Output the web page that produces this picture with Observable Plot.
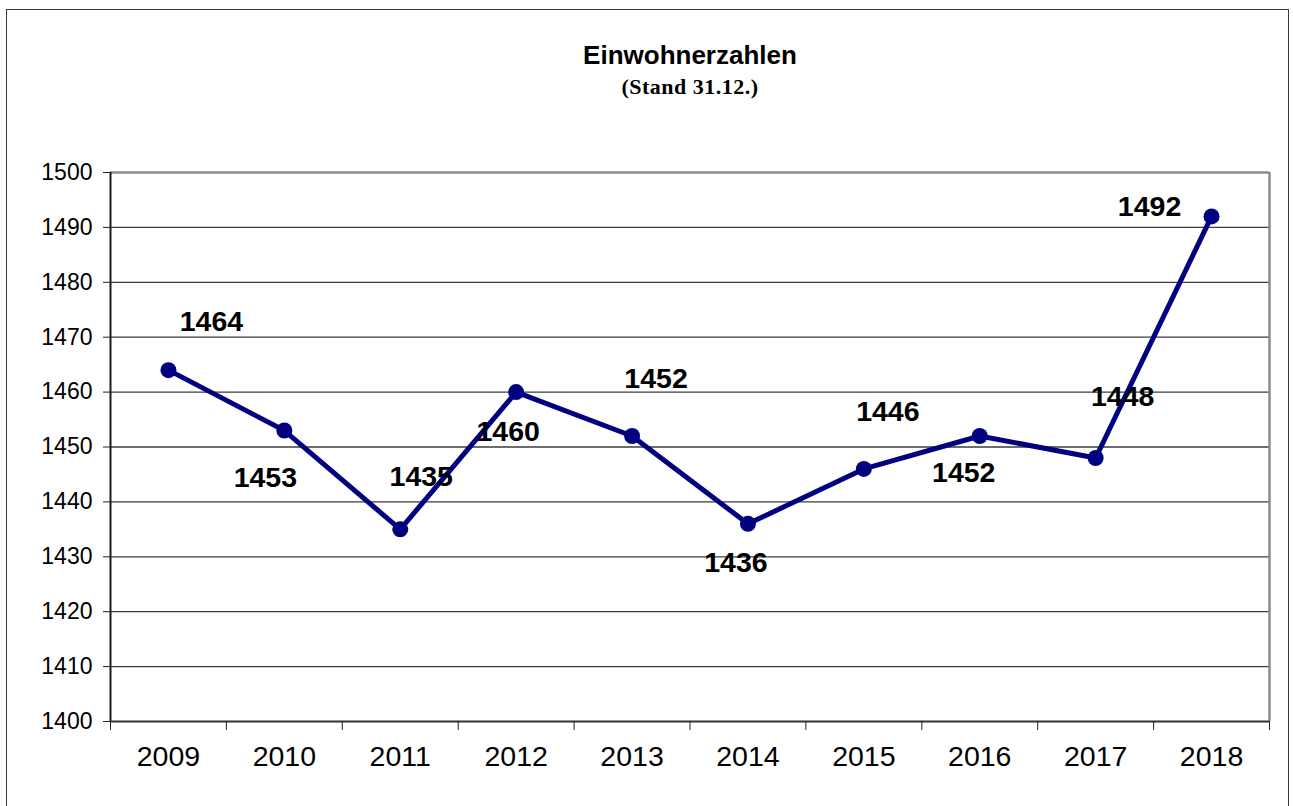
<!DOCTYPE html>
<html>
<head>
<meta charset="utf-8">
<script src="https://cdn.jsdelivr.net/npm/d3@7"></script>
<script src="https://cdn.jsdelivr.net/npm/@observablehq/plot@0.6"></script>
<style>
  html, body { margin: 0; padding: 0; background: #fff; }
  body { width: 1293px; height: 806px; position: relative; overflow: hidden; font-family: Arial, "Liberation Sans", sans-serif; }
  #frame { position: absolute; left: 6px; top: 9px; width: 1283px; height: 820px; border: 1.5px solid #3a3a3a; box-sizing: border-box; }
  #header { position: relative; height: 110px; width: 1293px; }
  #title { position: absolute; left: 110px; width: 1160px; top: 42px; text-align: center; font: bold 26px/26px Arial, "Liberation Sans", sans-serif; color: #000; }
  #subtitle { position: absolute; left: 110px; width: 1160px; top: 76px; text-align: center; font: bold 22px/22px "Liberation Serif", "DejaVu Serif", serif; color: #000; letter-spacing: 0.5px; }
  #chart svg { display: block; }
</style>
</head>
<body>
<div id="frame"></div>
<div id="header">
  <div id="title">Einwohnerzahlen</div>
  <div id="subtitle">(Stand 31.12.)</div>
</div>
<div id="chart"></div>
<script>
// ---- data ----
const years = [2009, 2010, 2011, 2012, 2013, 2014, 2015, 2016, 2017, 2018];
const values = [1464, 1453, 1435, 1460, 1452, 1436, 1446, 1452, 1448, 1492];
const yTicks = [1400, 1410, 1420, 1430, 1440, 1450, 1460, 1470, 1480, 1490, 1500];
// label placement offsets (pixels, presentation only)
const labelDx = [43, -19, 21, -8, 24, -12, 24, -16, 27, -62];
const labelDy = [-48, 47, -52, 40, -57, 39, -57, 37, -61, -10];

const data = years.map((year, i) => ({ year, value: values[i] }));
const xMin = years[0] - 0.5, xMax = years[years.length - 1] + 0.5;
const boundaries = [xMin, ...years.map(y => y + 0.5)];
const yMin = yTicks[0], yMax = yTicks[yTicks.length - 1];

const labelMarks = data.map((d, i) => Plot.text([d], {
  x: "year", y: "value", text: v => String(v.value),
  dx: labelDx[i], dy: labelDy[i],
  fontSize: 28.5, fontWeight: "bold", fill: "#000"
}));

const plot = Plot.plot({
  width: 1293,
  height: 696,
  marginLeft: 110,
  marginRight: 24,
  marginTop: 62,
  marginBottom: 85,
  style: { fontFamily: 'Arial, "Liberation Sans", sans-serif', background: "transparent", color: "#000", overflow: "visible" },
  x: { type: "linear", domain: [xMin, xMax], label: null },
  y: { domain: [yMin, yMax], label: null },
  marks: [
    Plot.ruleY(yTicks.slice(1, -1), { stroke: "#3c3c3c", strokeWidth: 1.3 }),
    Plot.ruleY([yMax], { stroke: "#8c8c8c", strokeWidth: 2.5 }),
    Plot.ruleX([xMax], { stroke: "#8c8c8c", strokeWidth: 2.5 }),
    Plot.ruleX([xMin], { stroke: "#1a1a1a", strokeWidth: 2 }),
    Plot.ruleY([yMin], { stroke: "#333", strokeWidth: 2 }),
    Plot.axisY({ ticks: yTicks, tickSize: 7, tickPadding: 11, fontSize: 23, tickFormat: d => String(d), stroke: "#222", label: null }),
    Plot.axisX({ ticks: boundaries, tickSize: 9, tickFormat: () => "", stroke: "#222", label: null }),
    Plot.axisX({ ticks: years, tickSize: 0, tickPadding: 24, fontSize: 28.5, tickFormat: d => String(d), label: null }),
    Plot.line(data, { x: "year", y: "value", stroke: "#000080", strokeWidth: 5, strokeLinejoin: "round" }),
    Plot.dot(data, { x: "year", y: "value", r: 8, fill: "#000080" }),
    ...labelMarks
  ]
});
document.getElementById("chart").appendChild(plot);
</script>
</body>
</html>
